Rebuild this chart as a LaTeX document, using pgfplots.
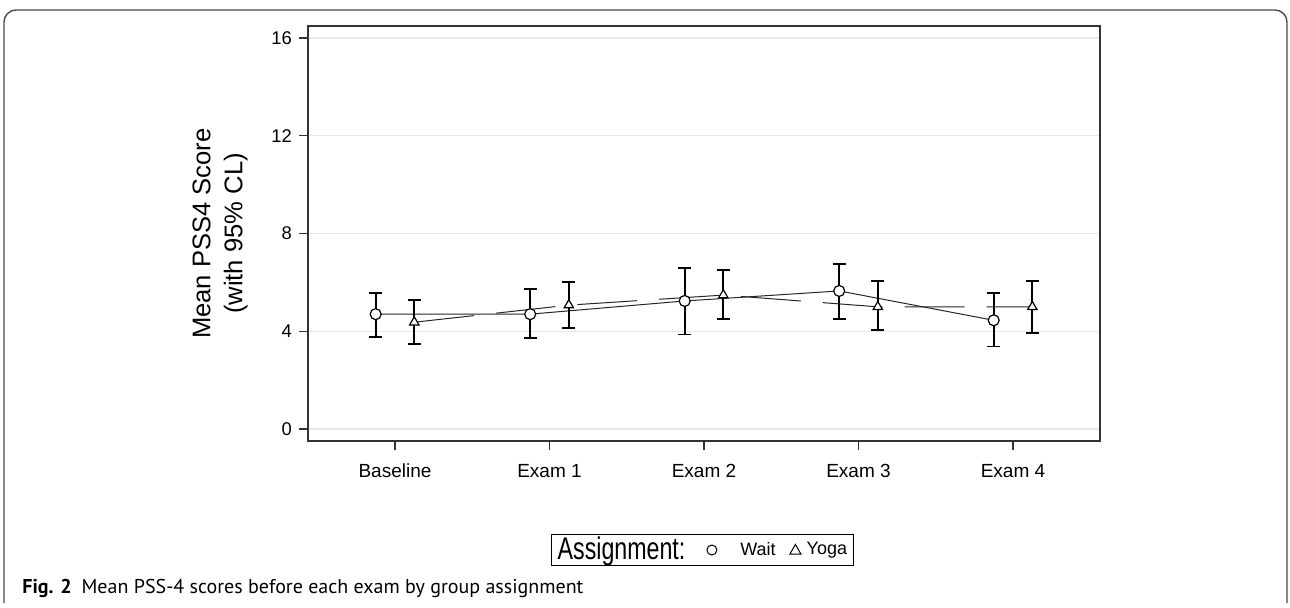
\documentclass[border=0pt]{standalone}
\usepackage{fontspec}
\setmainfont{Liberation Sans}
\newfontfamily\capfont{PT Sans}
\usepackage{pgfplots}
\usepackage{pgfplotstable}
\pgfplotsset{compat=1.18}

\pgfplotstableread{
x      y     lo    hi
-0.125 4.70  3.78  5.58
0.875  4.70  3.74  5.72
1.875  5.24  3.87  6.60
2.875  5.65  4.50  6.76
3.875  4.45  3.38  5.56
}\waitdata

\pgfplotstableread{
x      y     lo    hi
0.125  4.37  3.48  5.27
1.125  5.07  4.13  6.01
2.125  5.48  4.49  6.50
3.125  5.00  4.04  6.05
4.125  5.00  3.94  6.07
}\yogadata

\begin{document}
\begin{tikzpicture}
\useasboundingbox (-154pt,-83pt) rectangle (491pt,220.5pt);
\begin{axis}[
  at={(0,0)}, anchor=south west,
  scale only axis, width=396pt, height=207.5pt,
  xmin=-0.563, xmax=4.563, ymin=-0.49, ymax=16.49,
  xtick={0,1,2,3,4},
  xticklabels={Baseline,Exam 1,Exam 2,Exam 3,Exam 4},
  ytick={0,4,8,12,16},
  tick pos=left, tick align=outside,
  major tick length=4.5pt,
  ymajorgrids,
  grid style={black!9, line width=0.7pt},
  axis line style={black!80, line width=0.7pt},
  every tick/.style={black!80, line width=0.6pt},
  /pgf/number format/assume math mode=true,
  x tick label style={font=\fontsize{9.5}{11}\selectfont, yshift=-3.5pt},
  y tick label style={font=\fontsize{9.2}{11}\selectfont},
  ylabel={Mean PSS4 Score\\(with 95\% CL)},
  ylabel style={align=center, font=\fontsize{12.8}{16}\selectfont,
    at={(axis description cs:-0.111,0.5)}, anchor=center},
  legend columns=3,
  legend style={at={(0.498,-0.2627)}, anchor=center,
    draw=black, line width=0.5pt, inner xsep=3pt, inner ysep=1.2pt,
    font=\fontsize{9}{11}\selectfont,
    nodes={inner sep=0pt},
    /tikz/column sep=0pt},
  legend cell align=left,
]
\addplot[forget plot, black!85, line width=0.5pt, mark=*,
  mark options={solid, fill=white, draw=black, mark size=2.75pt, line width=0.6pt},
  error bars/.cd, y dir=both, y explicit,
  error bar style={black, line width=0.9pt, solid},
  error mark options={rotate=90, black, mark size=3.25pt, line width=0.9pt, solid}]
  table[x=x, y=y, y error plus expr=\thisrow{hi}-\thisrow{y}, y error minus expr=\thisrow{y}-\thisrow{lo}] {\waitdata};
\addplot[forget plot, black!85, line width=0.5pt, dash pattern=on 30pt off 11pt, mark=triangle*,
  mark options={solid, fill=white, draw=black, mark size=2.7pt, line width=0.6pt},
  error bars/.cd, y dir=both, y explicit,
  error bar style={black, line width=0.9pt, solid},
  error mark options={rotate=90, black, mark size=3.25pt, line width=0.9pt, solid}]
  table[x=x, y=y, y error plus expr=\thisrow{hi}-\thisrow{y}, y error minus expr=\thisrow{y}-\thisrow{lo}] {\yogadata};
\addlegendimage{empty legend}
\addlegendentry{\scalebox{1}[1.35]{\fontsize{11.6}{14}\selectfont Assignment:}}
\addlegendimage{legend image code/.code={\path (0pt,0pt) (27pt,0pt);
  \draw[black, line width=0.5pt, fill=white] (13pt,0pt) circle (2.5pt);}}
\addlegendentry{Wait}
\addlegendimage{legend image code/.code={\path (0pt,0pt) (15pt,0pt);
  \draw[black, line width=0.5pt, fill=white] (6.8pt,-2.1pt) -- (12.4pt,-2.1pt) -- (9.6pt,2.8pt) -- cycle;}}
\addlegendentry{Yoga}
\end{axis}
\draw[black!70, line width=0.7pt, rounded corners=6pt] (-152pt,-81pt) -- (-152pt,215.5pt) -- (489.5pt,215.5pt) -- (489.5pt,-81pt);
\node[anchor=base west, inner sep=0pt, font=\capfont\fontsize{10}{12}\selectfont] at (-143pt,-76pt)
  {\textbf{Fig. 2}\hspace{0.5em}Mean PSS-4 scores before each exam by group assignment};
\end{tikzpicture}
\end{document}
